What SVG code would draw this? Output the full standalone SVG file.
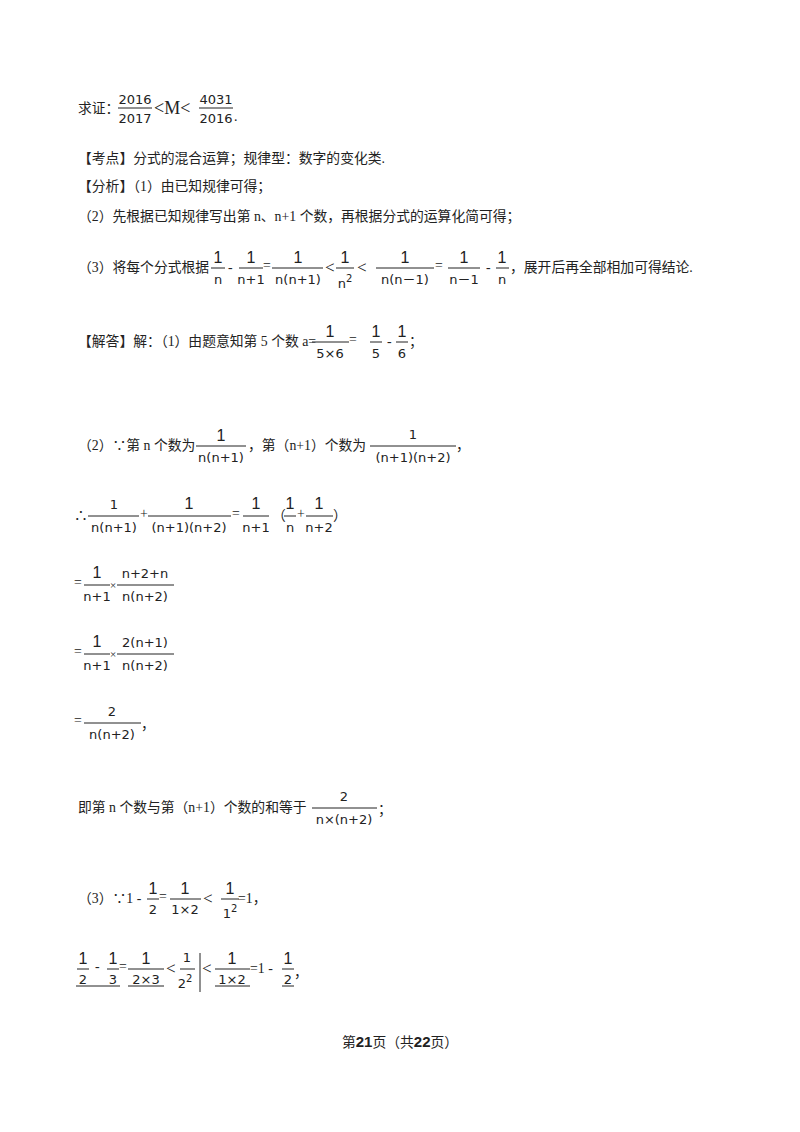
<svg xmlns="http://www.w3.org/2000/svg" width="800" height="1132" viewBox="0 0 800 1132">
<style>
text{font-family:"Liberation Serif","Noto Sans CJK SC",serif;font-size:13.8px;fill:#222}
.c{text-anchor:middle;font-family:"DejaVu Sans","Noto Sans CJK SC",sans-serif;font-size:13px}
.m{font-family:"Liberation Sans","Noto Sans CJK SC",sans-serif;font-size:16px}
line{stroke:#222;stroke-width:1}
.b{font-weight:bold;font-family:"Liberation Sans","Noto Sans CJK SC",sans-serif}
</style>
<rect width="800" height="1132" fill="#fff"/>
<g id="l1">
<text x="78" y="113">求证：</text>
<text class="c" x="135" y="104">2016</text><line x1="118" y1="108" x2="152" y2="108"/><text class="c" x="135" y="123">2017</text>
<text x="154" y="114" style="font-size:18px">&lt;M&lt;</text>
<text class="c" x="216" y="104">4031</text><line x1="199" y1="108" x2="233" y2="108"/><text class="c" x="216" y="123">2016</text>
<text x="234" y="121">.</text>
</g>
<g id="l2"><text x="78" y="163">【考点】分式的混合运算；规律型：数字的变化类.</text></g>
<g id="l3"><text x="78" y="191">【分析】（1）由已知规律可得；</text></g>
<g id="l4"><text x="78" y="221">（2）先根据已知规律写出第 n、n+1 个数，再根据分式的运算化简可得；</text></g>
<g id="l5">
<text x="78" y="272">（3）将每个分式根据</text>
<text class="c m" x="218" y="263">1</text><line x1="211" y1="268" x2="225" y2="268"/><text class="c" x="218" y="284">n</text>
<text x="228" y="272">-</text>
<text class="c m" x="251" y="263">1</text><line x1="239" y1="268" x2="263" y2="268"/><text class="c" x="251" y="284">n+1</text>
<text x="263" y="270">=</text>
<text class="c m" x="298" y="263">1</text><line x1="272" y1="268" x2="323" y2="268"/><text class="c" x="298" y="284">n(n+1)</text>
<text x="325" y="273" style="font-size:17px">&lt;</text>
<text class="c m" x="345" y="263">1</text><line x1="336" y1="268" x2="354" y2="268"/><text class="c" x="345" y="288">n<tspan dy="-6" font-size="10">2</tspan></text>
<text x="357" y="273" style="font-size:17px">&lt;</text>
<text class="c m" x="405" y="263">1</text><line x1="376" y1="268" x2="434" y2="268"/><text class="c" x="405" y="284">n(n－1)</text>
<text x="435" y="270">=</text>
<text class="c m" x="464" y="263">1</text><line x1="448" y1="268" x2="480" y2="268"/><text class="c" x="464" y="284">n－1</text>
<text x="486" y="272">-</text>
<text class="c m" x="502" y="263">1</text><line x1="496" y1="268" x2="509" y2="268"/><text class="c" x="502" y="284">n</text>
<text x="510" y="272">，展开后再全部相加可得结论.</text>
</g>
<g id="l6">
<text x="78" y="346">【解答】解：（1）由题意知第 5 个数 a=</text>
<text class="c m" x="330" y="337">1</text><line x1="312" y1="342" x2="349" y2="342"/><text class="c" x="330" y="358">5×6</text>
<text x="349" y="344">=</text>
<text class="c m" x="376" y="337">1</text><line x1="370" y1="342" x2="382" y2="342"/><text class="c" x="376" y="358">5</text>
<text x="387" y="346">-</text>
<text class="c m" x="402" y="337">1</text><line x1="396" y1="342" x2="408" y2="342"/><text class="c" x="402" y="358">6</text>
<text x="409" y="346">；</text>
</g>
<g id="l7">
<text x="78" y="450">（2）∵第 n 个数为</text>
<text class="c m" x="221" y="441">1</text><line x1="196" y1="446" x2="246" y2="446"/><text class="c" x="221" y="462">n(n+1)</text>
<text x="248" y="450">，第（n+1）个数为</text>
<text class="c" x="413" y="439">1</text><line x1="370" y1="446" x2="456" y2="446"/><text class="c" x="413" y="462">(n+1)(n+2)</text>
<text x="456" y="450">，</text>
</g>
<g id="l8">
<text x="74" y="520">∴</text>
<text class="c" x="114" y="509">1</text><line x1="88" y1="516" x2="139" y2="516"/><text class="c" x="114" y="532">n(n+1)</text>
<text x="140" y="518">+</text>
<text class="c m" x="189" y="509">1</text><line x1="148" y1="516" x2="231" y2="516"/><text class="c" x="189" y="532">(n+1)(n+2)</text>
<text x="232" y="518">=</text>
<text class="c m" x="256" y="509">1</text><line x1="243" y1="516" x2="269" y2="516"/><text class="c" x="256" y="532">n+1</text>
<text x="272" y="520">（</text>
<text class="c m" x="290" y="509">1</text><line x1="284" y1="516" x2="296" y2="516"/><text class="c" x="290" y="532">n</text>
<text x="297" y="518">+</text>
<text class="c m" x="319" y="509">1</text><line x1="306" y1="516" x2="333" y2="516"/><text class="c" x="319" y="532">n+2</text>
<text x="333" y="520">）</text>
</g>
<g id="l9">
<text x="74" y="587">=</text>
<text class="c m" x="97" y="578">1</text><line x1="84" y1="585" x2="110" y2="585"/><text class="c" x="97" y="601">n+1</text>
<text x="110" y="589" style="font-size:11px">×</text>
<text class="c" x="145" y="578">n+2+n</text><line x1="117" y1="585" x2="174" y2="585"/><text class="c" x="145" y="601">n(n+2)</text>
</g>
<g id="l10">
<text x="74" y="656">=</text>
<text class="c m" x="97" y="647">1</text><line x1="84" y1="654" x2="110" y2="654"/><text class="c" x="97" y="670">n+1</text>
<text x="110" y="658" style="font-size:11px">×</text>
<text class="c" x="145" y="647">2(n+1)</text><line x1="117" y1="654" x2="174" y2="654"/><text class="c" x="145" y="670">n(n+2)</text>
</g>
<g id="l11">
<text x="74" y="725">=</text>
<text class="c" x="112" y="716">2</text><line x1="84" y1="723" x2="141" y2="723"/><text class="c" x="112" y="739">n(n+2)</text>
<text x="141" y="729">，</text>
</g>
<g id="l12">
<text x="78" y="812">即第 n 个数与第（n+1）个数的和等于</text>
<text class="c" x="344" y="801">2</text><line x1="312" y1="808" x2="377" y2="808"/><text class="c" x="344" y="824">n×(n+2)</text>
<text x="378" y="814">；</text>
</g>
<g id="l13">
<text x="78" y="903">（3）∵1 -</text>
<text class="c m" x="153" y="894">1</text><line x1="147" y1="899" x2="159" y2="899"/><text class="c" x="153" y="914">2</text>
<text x="159" y="901">=</text>
<text class="c m" x="185" y="894">1</text><line x1="170" y1="899" x2="201" y2="899"/><text class="c" x="185" y="914">1×2</text>
<text x="203" y="904" style="font-size:17px">&lt;</text>
<text class="c m" x="230" y="894">1</text><line x1="221" y1="899" x2="239" y2="899"/><text class="c" x="230" y="918">1<tspan dy="-6" font-size="10">2</tspan></text>
<text x="238" y="903">=1，</text>
</g>
<g id="l14">
<text class="c m" x="83" y="964">1</text><line x1="77" y1="969" x2="89" y2="969"/><text class="c" x="83" y="984">2</text>
<line x1="76" y1="986" x2="120" y2="986"/>
<text x="95" y="971">-</text>
<text class="c m" x="113" y="964">1</text><line x1="107" y1="969" x2="119" y2="969"/><text class="c" x="113" y="984">3</text>
<text x="119" y="971">=</text>
<text class="c m" x="146" y="964">1</text><line x1="128" y1="969" x2="164" y2="969"/><text class="c" x="146" y="984">2×3</text>
<line x1="128" y1="986" x2="164" y2="986"/>
<text x="166" y="974" style="font-size:17px">&lt;</text>
<text class="c" x="187" y="962">1</text><line x1="180" y1="969" x2="195" y2="969"/><text class="c" x="185" y="988">2<tspan dy="-6" font-size="10">2</tspan></text>
<line x1="200" y1="953" x2="200" y2="992"/>
<text x="202" y="974" style="font-size:17px">&lt;</text>
<text class="c m" x="232" y="964">1</text><line x1="215" y1="969" x2="250" y2="969"/><text class="c" x="232" y="984">1×2</text>
<line x1="215" y1="986" x2="250" y2="986"/>
<text x="250" y="973">=1 -</text>
<text class="c m" x="288" y="964">1</text><line x1="282" y1="969" x2="294" y2="969"/><text class="c" x="288" y="984">2</text>
<line x1="282" y1="986" x2="294" y2="986"/>
<text x="294" y="977">，</text>
</g>
<g id="footer"><text x="400" y="1047" text-anchor="middle">第<tspan class="b" font-size="15">21</tspan>页（共<tspan class="b" font-size="15">22</tspan>页）</text></g>
</svg>
